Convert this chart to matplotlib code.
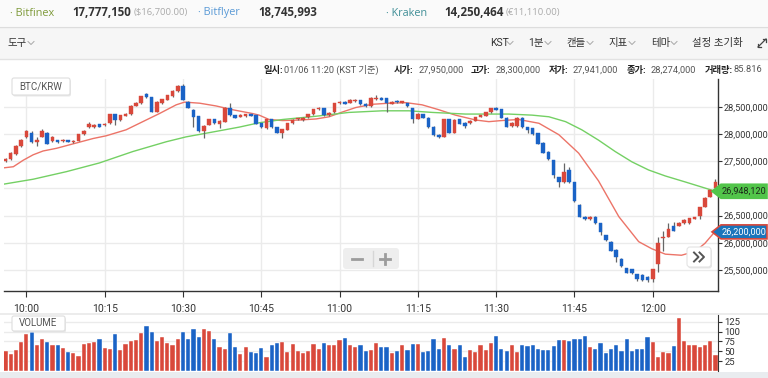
import numpy as np
import matplotlib
matplotlib.use("Agg")
import matplotlib.pyplot as plt
from matplotlib.patches import Rectangle, FancyBboxPatch, Polygon

plt.rcParams['font.family'] = ['Roboto', 'Noto Sans CJK KR', 'DejaVu Sans']

# 1-minute candles, 09:56 .. 12:12, prices in million KRW
opens = [27.50, 27.54, 27.63, 27.78, 27.95, 28.03, 27.86, 27.95, 28.03, 27.87,
         27.89, 27.87, 27.89, 27.85, 27.88, 28.00, 28.13, 28.13, 28.18, 28.16,
         28.20, 28.37, 28.26, 28.34, 28.37, 28.52, 28.57, 28.74, 28.68, 28.41,
         28.57, 28.63, 28.70, 28.79, 28.89, 28.60, 28.45, 28.33, 28.05, 28.17,
         28.27, 28.19, 28.23, 28.48, 28.35, 28.32, 28.33, 28.36, 28.35, 28.20,
         28.11, 28.27, 28.13, 28.03, 28.08, 28.20, 28.27, 28.26, 28.31, 28.37,
         28.46, 28.48, 28.35, 28.40, 28.57, 28.60, 28.58, 28.61, 28.62, 28.56,
         28.51, 28.64, 28.67, 28.66, 28.56, 28.61, 28.58, 28.57, 28.48, 28.28,
         28.37, 28.30, 28.14, 27.99, 27.95, 28.27, 28.03, 28.27, 28.21, 28.20,
         28.25, 28.32, 28.34, 28.40, 28.48, 28.46, 28.30, 28.15, 28.15, 28.30,
         28.13, 28.11, 28.02, 27.84, 27.68, 27.52, 27.21, 27.11, 27.34, 27.11,
         26.70, 26.48, 26.43, 26.48, 26.36, 26.14, 26.02, 25.87, 25.70, 25.53,
         25.51, 25.42, 25.41, 25.37, 25.33, 25.61, 26.08, 26.11, 26.31, 26.31,
         26.36, 26.36, 26.44, 26.49, 26.66, 26.85, 27.00]
closes = [27.54, 27.65, 27.78, 27.90, 28.06, 27.86, 27.89, 28.06, 27.82, 27.95,
          27.86, 27.90, 27.86, 27.88, 28.00, 28.06, 28.18, 28.17, 28.14, 28.19,
          28.37, 28.26, 28.35, 28.38, 28.52, 28.58, 28.70, 28.68, 28.41, 28.60,
          28.64, 28.72, 28.80, 28.89, 28.63, 28.49, 28.32, 28.05, 28.15, 28.27,
          28.20, 28.25, 28.49, 28.35, 28.30, 28.36, 28.37, 28.34, 28.19, 28.13,
          28.27, 28.13, 28.03, 28.09, 28.20, 28.26, 28.28, 28.30, 28.37, 28.46,
          28.49, 28.35, 28.39, 28.57, 28.60, 28.56, 28.63, 28.63, 28.55, 28.51,
          28.67, 28.67, 28.63, 28.57, 28.60, 28.59, 28.60, 28.51, 28.28, 28.38,
          28.30, 28.13, 27.98, 27.94, 28.27, 28.03, 28.26, 28.19, 28.15, 28.25,
          28.31, 28.34, 28.40, 28.48, 28.45, 28.30, 28.14, 28.21, 28.30, 28.13,
          28.08, 28.00, 27.82, 27.66, 27.54, 27.25, 27.11, 27.31, 27.11, 26.76,
          26.48, 26.43, 26.48, 26.36, 26.20, 26.05, 25.85, 25.73, 25.57, 25.45,
          25.44, 25.33, 25.31, 25.31, 25.51, 26.00, 26.11, 26.26, 26.22, 26.37,
          26.42, 26.45, 26.47, 26.65, 26.83, 26.97, 27.11]
highs = [27.56, 27.67, 27.80, 27.91, 28.07, 28.06, 27.95, 28.09, 28.04, 27.96,
         27.90, 27.91, 27.90, 27.89, 28.01, 28.07, 28.22, 28.18, 28.19, 28.20,
         28.38, 28.38, 28.36, 28.39, 28.53, 28.59, 28.71, 28.76, 28.69, 28.61,
         28.65, 28.73, 28.81, 28.90, 28.92, 28.61, 28.46, 28.34, 28.16, 28.28,
         28.28, 28.26, 28.50, 28.57, 28.36, 28.37, 28.38, 28.37, 28.36, 28.21,
         28.28, 28.28, 28.14, 28.10, 28.21, 28.27, 28.29, 28.31, 28.38, 28.47,
         28.50, 28.49, 28.40, 28.58, 28.61, 28.61, 28.64, 28.64, 28.63, 28.57,
         28.68, 28.72, 28.68, 28.67, 28.61, 28.62, 28.61, 28.58, 28.49, 28.39,
         28.38, 28.31, 28.15, 28.00, 28.28, 28.28, 28.27, 28.28, 28.22, 28.26,
         28.32, 28.35, 28.41, 28.49, 28.50, 28.47, 28.31, 28.22, 28.31, 28.31,
         28.14, 28.12, 28.03, 27.85, 27.69, 27.53, 27.22, 27.46, 27.39, 27.12,
         26.71, 26.49, 26.49, 26.49, 26.37, 26.15, 26.03, 25.88, 25.71, 25.54,
         25.52, 25.43, 25.42, 25.38, 25.52, 26.10, 26.22, 26.37, 26.39, 26.38,
         26.43, 26.46, 26.48, 26.66, 26.84, 26.98, 27.17]
lows = [27.48, 27.52, 27.62, 27.77, 27.93, 27.84, 27.78, 27.94, 27.81, 27.86,
        27.83, 27.86, 27.85, 27.84, 27.87, 27.99, 28.12, 28.12, 28.13, 28.15,
        28.19, 28.17, 28.25, 28.33, 28.36, 28.51, 28.56, 28.67, 28.40, 28.40,
        28.56, 28.62, 28.69, 28.78, 28.62, 28.48, 28.13, 28.04, 27.92, 28.16,
        28.19, 28.11, 28.22, 28.34, 28.29, 28.31, 28.32, 28.33, 28.18, 28.12,
        28.10, 28.12, 28.02, 27.92, 28.07, 28.19, 28.26, 28.25, 28.30, 28.36,
        28.45, 28.34, 28.34, 28.39, 28.56, 28.55, 28.57, 28.60, 28.54, 28.50,
        28.50, 28.63, 28.62, 28.40, 28.55, 28.58, 28.57, 28.50, 28.21, 28.27,
        28.29, 28.12, 27.97, 27.93, 27.94, 28.02, 28.02, 28.18, 28.12, 28.19,
        28.24, 28.31, 28.33, 28.39, 28.44, 28.29, 28.13, 28.14, 28.14, 28.12,
        28.02, 27.99, 27.81, 27.65, 27.53, 27.19, 27.02, 27.10, 27.10, 26.75,
        26.47, 26.41, 26.42, 26.35, 26.14, 26.04, 25.84, 25.65, 25.56, 25.44,
        25.43, 25.30, 25.30, 25.28, 25.28, 25.47, 25.85, 26.10, 26.21, 26.30,
        26.35, 26.35, 26.43, 26.44, 26.65, 26.84, 26.99]
volumes = [51, 42, 52, 73, 94, 100, 65, 81, 73, 67,
           65, 59, 48, 46, 37, 69, 71, 73, 81, 59,
           56, 94, 52, 69, 76, 79, 96, 115, 100, 75,
           87, 71, 65, 81, 98, 81, 106, 87, 106, 102,
           80, 62, 56, 96, 61, 44, 61, 48, 46, 59,
           36, 65, 71, 73, 48, 69, 50, 46, 51, 69,
           55, 71, 67, 66, 79, 83, 67, 61, 67, 51,
           52, 71, 60, 62, 46, 51, 65, 54, 69, 69,
           48, 51, 81, 56, 84, 65, 55, 65, 36, 52,
           48, 65, 52, 71, 88, 56, 50, 67, 48, 67,
           63, 65, 55, 52, 52, 63, 79, 79, 75, 81,
           81, 88, 62, 55, 71, 46, 55, 67, 51, 81,
           50, 56, 56, 85, 73, 35, 48, 46, 63, 135,
           75, 67, 67, 60, 67, 75, 41]

# moving averages (minute index, price)
ma_red_x = [-0.3, 1.5, 3.4, 5.3, 7.2, 9.8, 12.9, 16.8, 19.3, 23.1, 26.3, 29.5,
            32.7, 34.3, 37.2, 40.3, 43.5, 47.3, 48.6, 50.5, 53.1, 56.3, 59.5,
            62.0, 64.6, 67.1, 70.3, 73.5, 76.7, 79.8, 83.0, 86.2, 90.1, 92.6,
            95.0, 98.3, 102.2, 106.0, 109.8, 113.6, 117.5, 121.3, 123.8, 126.4,
            129.5, 132.1, 134.0, 135.6, 136.0]
ma_red = [27.38, 27.40, 27.52, 27.62, 27.69, 27.74, 27.82, 27.92, 27.97, 28.08,
          28.23, 28.38, 28.54, 28.59, 28.57, 28.52, 28.45, 28.38, 28.35, 28.27,
          28.25, 28.26, 28.28, 28.32, 28.41, 28.49, 28.55, 28.57, 28.58, 28.54,
          28.45, 28.35, 28.26, 28.23, 28.25, 28.27, 28.20, 27.99, 27.65, 27.14,
          26.48, 26.02, 25.89, 25.79, 25.77, 25.84, 25.99, 26.17, 26.20]
ma_green_x = [-0.3, 5.3, 11.7, 18.0, 24.4, 30.8, 34.6, 40.3, 44.8, 48.6, 53.1,
              59.5, 65.8, 72.2, 77.3, 81.8, 88.1, 96.4, 100.9, 104.1, 107.3,
              110.4, 113.6, 116.8, 120.0, 123.2, 126.4, 130.2, 136.0]
ma_green = [27.08, 27.17, 27.31, 27.47, 27.68, 27.86, 27.95, 28.05, 28.13, 28.21,
            28.27, 28.33, 28.40, 28.43, 28.43, 28.40, 28.37, 28.37, 28.35, 28.32,
            28.23, 28.08, 27.89, 27.68, 27.49, 27.34, 27.23, 27.12, 26.948120]

tick_pos = [4, 19, 34, 49, 64, 79, 94, 109, 124]
tick_labels = ['10:00', '10:15', '10:30', '10:45', '11:00', '11:15', '11:30', '11:45', '12:00']
price_ticks = [25.5, 26.0, 26.5, 27.0, 27.5, 28.0, 28.5]
vol_ticks = [25, 50, 75, 100, 125]

RED = '#d9483b'
BLUE = '#1a63c6'
W, H = 768, 378


def frac(x0, y0, x1, y1):
    # pixel box (top-left origin) -> figure fraction rect
    return [x0 / W, 1 - y1 / H, (x1 - x0) / W, (y1 - y0) / H]


fig = plt.figure(figsize=(7.68, 3.78), dpi=100)
fig.patch.set_facecolor('white')

bg = fig.add_axes([0, 0, 1, 1], zorder=0)
bg.set_xlim(0, W)
bg.set_ylim(H, 0)
bg.axis('off')
bg.add_patch(Rectangle((0, 0), W, 26, fc='#fafafa', ec='none'))
bg.add_patch(Rectangle((0, 26.5), W, 32, fc='#f6f6f6', ec='none'))
bg.plot([0, W], [26.5, 26.5], color='#dddddd', lw=1)
bg.plot([0, W], [58.5, 58.5], color='#e2e2e2', lw=1)
bg.add_patch(Rectangle((0, 312.5), W, 2.5, fc='#ececec', ec='none'))
bg.add_patch(Rectangle((0, 372), W, 6, fc='#e9ecef', ec='none'))

# ---- price panel
ax = fig.add_axes(frac(4, 79, 718, 291), zorder=1)
ax.set_facecolor('none')
x = np.arange(len(opens))
o = np.array(opens)
c = np.array(closes)
up = c >= o
cols = np.where(up, RED, BLUE)
ax.vlines(x, lows, highs, colors='#666666', lw=0.9, zorder=3)
ax.bar(x, np.maximum(np.abs(c - o), 0.025), bottom=np.minimum(o, c), width=0.68,
       color=cols, edgecolor=cols, lw=0.3, zorder=4)
ax.plot(ma_red_x, ma_red, color='#ec7468', lw=1.0, zorder=2)
ax.plot(ma_green_x, ma_green, color='#74d064', lw=1.0, zorder=2)

ax.set_xlim((4 - 5.5) / 5.22, (718 - 5.5) / 5.22)
ax.set_ylim(28.5 - 184 / 54.3, 28.5 + 28 / 54.3)
ax.set_yticks(price_ticks)
ax.set_yticklabels([f"{p * 1e6:,.0f}" for p in price_ticks])
ax.set_xticks(tick_pos)
ax.set_xticklabels(tick_labels)
ax.grid(True, color='#ebebeb', lw=1)
ax.set_axisbelow(True)
for s in ['top', 'left']:
    ax.spines[s].set_visible(False)
for s in ['right', 'bottom']:
    ax.spines[s].set_color('#333333')
    ax.spines[s].set_linewidth(1)
ax.tick_params(axis='y', left=False, right=True, labelleft=False, labelright=True,
               length=3, pad=1, labelsize=6.6, colors='#333333')
ax.tick_params(axis='x', length=4, pad=5, labelsize=7.5, colors='#333333')

# ---- volume panel
vax = fig.add_axes(frac(4, 315, 718, 371), zorder=1)
vax.set_facecolor('none')
vax.bar(x, volumes, width=0.8, color=cols, edgecolor='white', lw=0.3)
vax.set_xlim(ax.get_xlim())
vax.set_ylim(0, 142)
vax.set_yticks(vol_ticks)
vax.set_xticks([])
vax.grid(True, axis='y', color='#ebebeb', lw=1)
vax.set_axisbelow(True)
for s in ['top', 'left', 'bottom']:
    vax.spines[s].set_visible(False)
vax.spines['right'].set_color('#333333')
vax.tick_params(axis='y', left=False, right=True, labelleft=False, labelright=True,
                length=3, pad=1.5, labelsize=6.8, colors='#333333')

# ---- overlay UI
fg = fig.add_axes([0, 0, 1, 1], zorder=5)
fg.set_xlim(0, W)
fg.set_ylim(H, 0)
fg.axis('off')
fg.patch.set_alpha(0)

topfont = ['Open Sans', 'Noto Sans CJK KR', 'DejaVu Sans']
top_items = [(10, '· Bitfinex', '#7e9a3a', 7.8, 'normal'),
             (72, '17,777,150', '#333333', 8.3, 'bold'),
             (134, '($16,700.00)', '#aaaaaa', 6.8, 'normal'),
             (198, '· Bitflyer', '#5a9ad6', 7.8, 'normal'),
             (258, '18,745,993', '#333333', 8.3, 'bold'),
             (386, '· Kraken', '#3f8e96', 7.8, 'normal'),
             (444, '14,250,464', '#333333', 8.3, 'bold'),
             (506, '(€11,110.00)', '#aaaaaa', 6.8, 'normal')]
for xs, t, col, fs, wt in top_items:
    fg.text(xs, 13, t, color=col, fontsize=fs, weight=wt, va='center', family=topfont)


def chevron(x0, y0):
    fg.plot([x0, x0 + 3, x0 + 6], [y0, y0 + 3, y0], color='#a8a8a8', lw=0.7)


fg.text(7, 43, '도구', color='#333333', fontsize=7.5, va='center')
chevron(28, 41.5)
for label, xs, cx in [('KST', 490, 507), ('1분', 528, 545), ('캔들', 566, 587),
                      ('지표', 608, 629), ('테마', 651, 671)]:
    fg.text(xs, 43, label, color='#333333', fontsize=7.5, va='center')
    chevron(cx, 41.5)
fg.text(692, 43, '설정 초기화', color='#333333', fontsize=7.5, va='center')
fg.plot([758, 766], [47, 39], color='#444444', lw=0.9)
fg.plot([758, 758, 761], [44, 47, 47], color='#444444', lw=0.9)
fg.plot([763, 766, 766], [39, 39, 42], color='#444444', lw=0.9)

info = [(263, '일시:', True), (284, '01/06 11:20 (KST 기준)', False),
        (394, '시가:', True), (419, '27,950,000', False), (471, '고가:', True),
        (496, '28,300,000', False), (549, '저가:', True), (573, '27,941,000', False),
        (627, '종가:', True), (651, '28,274,000', False), (705, '거래량:', True),
        (734, '85.816', False)]
for xs, t, b in info:
    fg.text(xs, 70, t, fontsize=6.7, va='center', color='#222222' if b else '#555555',
            weight='bold' if b else 'normal')

# BTC/KRW and VOLUME boxes
for (bx, by, bw, bh, t) in [(12, 78, 58, 17, 'BTC/KRW'), (12, 316, 53, 15, 'VOLUME')]:
    fg.add_patch(FancyBboxPatch((bx + 1, by + 1.5), bw, bh, boxstyle='round,pad=0,rounding_size=2',
                                fc='#e8e8e8', ec='none'))
    fg.add_patch(FancyBboxPatch((bx, by), bw, bh, boxstyle='round,pad=0,rounding_size=2',
                                fc='white', ec='#dedede', lw=0.8))
    fg.text(bx + bw / 2, by + bh / 2, t, fontsize=7, color='#555555', ha='center', va='center')

# zoom control
fg.add_patch(FancyBboxPatch((343, 248), 56, 21, boxstyle='round,pad=0,rounding_size=3',
                            fc='#eeeeee', ec='none'))
fg.plot([352, 362], [258.5, 258.5], color='#9c9c9c', lw=2)
fg.plot([373, 373], [251, 266], color='#d6d6d6', lw=1)
fg.plot([380, 390], [258.5, 258.5], color='#9c9c9c', lw=2)
fg.plot([385, 385], [253.5, 263.5], color='#9c9c9c', lw=2)

# scroll button
fg.add_patch(FancyBboxPatch((688, 248.5), 24, 20, boxstyle='round,pad=0,rounding_size=3',
                            fc='#e6e6e6', ec='none'))
fg.add_patch(FancyBboxPatch((687, 247), 24, 20, boxstyle='round,pad=0,rounding_size=3',
                            fc='white', ec='#e4e4e4', lw=0.8))
fg.plot([694, 698.5, 694], [252.5, 257, 261.5], color='#555555', lw=1.4)
fg.plot([699.5, 704, 699.5], [252.5, 257, 261.5], color='#555555', lw=1.4)

# last-value tags for the moving averages
for val, fc, ec, tc in [(ma_green[-1], '#52c54a', '#52c54a', '#1c2a1a'),
                        (ma_red[-1], '#1b75bb', RED, 'white')]:
    yp = H - ax.transData.transform((0, val))[1]
    fg.add_patch(Polygon([(712, yp), (721, yp - 7), (767, yp - 7), (767, yp + 7), (721, yp + 7)],
                         closed=True, fc=fc, ec=ec, lw=1.2))
    fg.text(744, yp + 0.3, f"{val * 1e6:,.0f}", fontsize=6.6, color=tc, ha='center', va='center')

fig.savefig('out.png', dpi=100, facecolor='white')
